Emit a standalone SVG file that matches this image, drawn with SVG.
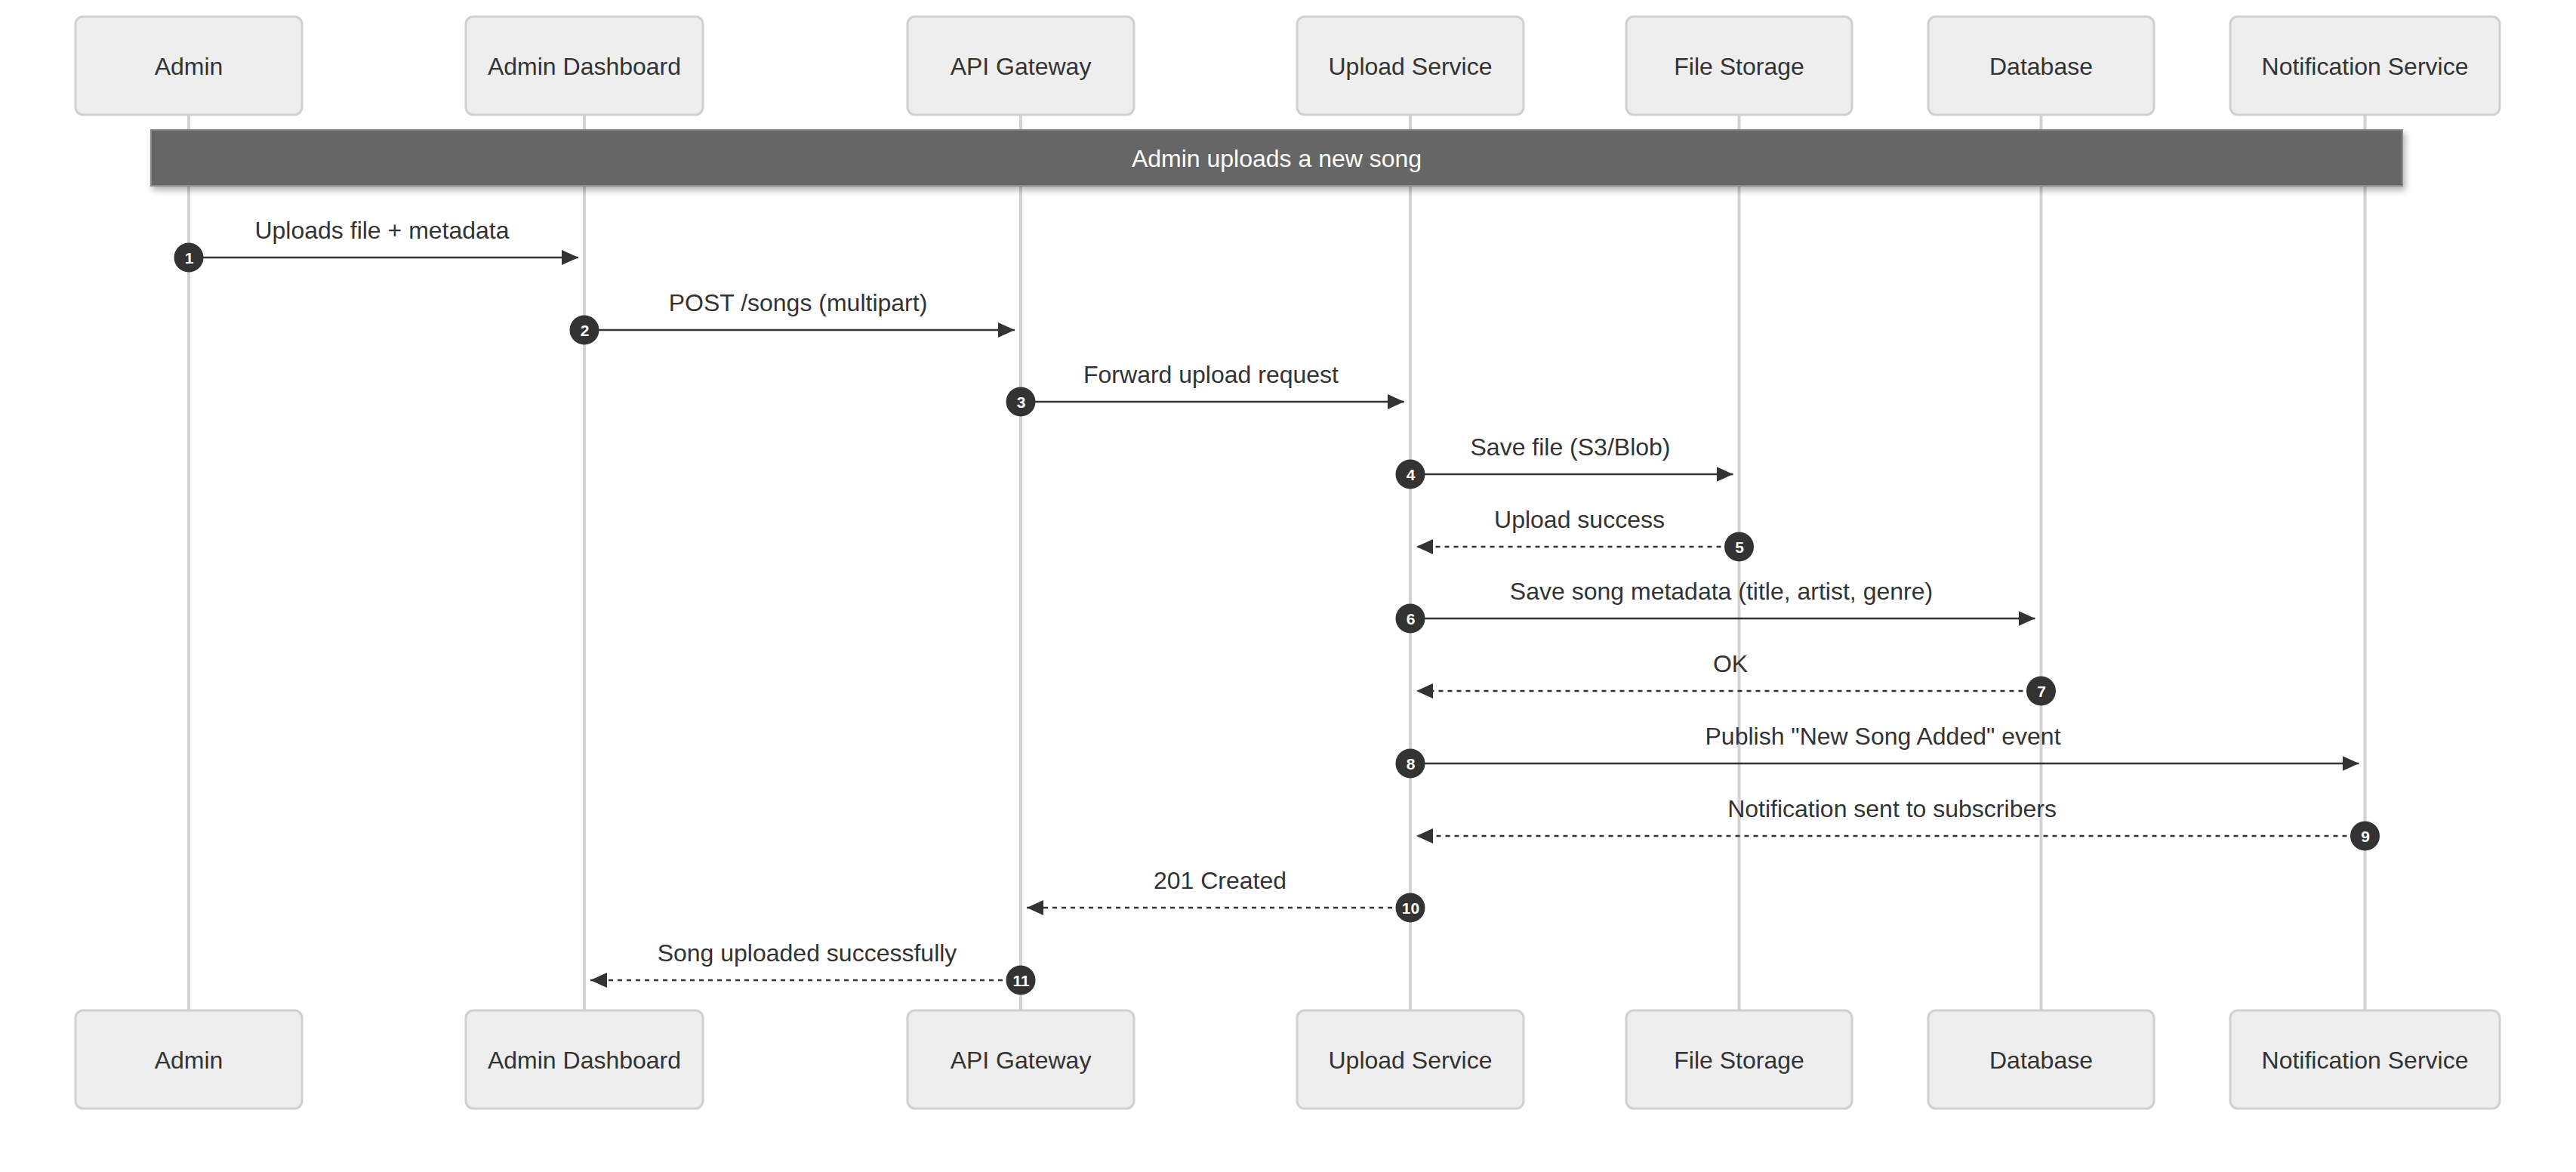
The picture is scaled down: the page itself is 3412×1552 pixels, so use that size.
<svg xmlns="http://www.w3.org/2000/svg" width="3412" height="1552" viewBox="0 0 3412 1552">
<style>
.actor rect{fill:#eeeeee;stroke:#d0d0d0;stroke-width:3}
.actor text{font-family:"Liberation Sans",Arial,sans-serif;font-size:32px;fill:#333;text-anchor:middle}
.life{stroke:#d3d3d3;stroke-width:4}
.msg{stroke:#333;stroke-width:2.7;fill:none}
.dash{stroke-dasharray:6,6}
.lbl{font-family:"Liberation Sans",Arial,sans-serif;font-size:32px;fill:#333;text-anchor:middle}
.num circle{fill:#333}
.num text{font-family:"Liberation Sans",Arial,sans-serif;font-size:21px;font-weight:bold;fill:#fff;text-anchor:middle}
</style>
<defs>
<marker id="ah" markerUnits="userSpaceOnUse" markerWidth="22" markerHeight="20" refX="22" refY="10" orient="auto">
<path d="M0,0 L22,10 L0,20 z" fill="#333"/>
</marker>
<filter id="sh" x="-5%" y="-30%" width="110%" height="180%">
<feDropShadow dx="3" dy="5" stdDeviation="4" flood-color="#000" flood-opacity="0.3"/>
</filter>
</defs>
<rect width="3412" height="1552" fill="#fff"/>
<g id="lifelines">
<line class="life" x1="250" y1="152" x2="250" y2="1338"/>
<line class="life" x1="774" y1="152" x2="774" y2="1338"/>
<line class="life" x1="1352" y1="152" x2="1352" y2="1338"/>
<line class="life" x1="1868" y1="152" x2="1868" y2="1338"/>
<line class="life" x1="2303.5" y1="152" x2="2303.5" y2="1338"/>
<line class="life" x1="2703.5" y1="152" x2="2703.5" y2="1338"/>
<line class="life" x1="3132.5" y1="152" x2="3132.5" y2="1338"/>
</g>
<g id="actor-admin" class="actor">
<rect x="100" y="22" width="300" height="130" rx="10"/><text x="250" y="98.5">Admin</text>
<rect x="100" y="1338" width="300" height="130" rx="10"/><text x="250" y="1414.5">Admin</text>
</g>
<g id="actor-dashboard" class="actor">
<rect x="617" y="22" width="314" height="130" rx="10"/><text x="774" y="98.5">Admin Dashboard</text>
<rect x="617" y="1338" width="314" height="130" rx="10"/><text x="774" y="1414.5">Admin Dashboard</text>
</g>
<g id="actor-gateway" class="actor">
<rect x="1202" y="22" width="300" height="130" rx="10"/><text x="1352" y="98.5">API Gateway</text>
<rect x="1202" y="1338" width="300" height="130" rx="10"/><text x="1352" y="1414.5">API Gateway</text>
</g>
<g id="actor-upload" class="actor">
<rect x="1718" y="22" width="300" height="130" rx="10"/><text x="1868" y="98.5">Upload Service</text>
<rect x="1718" y="1338" width="300" height="130" rx="10"/><text x="1868" y="1414.5">Upload Service</text>
</g>
<g id="actor-storage" class="actor">
<rect x="2154" y="22" width="299" height="130" rx="10"/><text x="2303.5" y="98.5">File Storage</text>
<rect x="2154" y="1338" width="299" height="130" rx="10"/><text x="2303.5" y="1414.5">File Storage</text>
</g>
<g id="actor-database" class="actor">
<rect x="2554" y="22" width="299" height="130" rx="10"/><text x="2703.5" y="98.5">Database</text>
<rect x="2554" y="1338" width="299" height="130" rx="10"/><text x="2703.5" y="1414.5">Database</text>
</g>
<g id="actor-notification" class="actor">
<rect x="2954" y="22" width="357" height="130" rx="10"/><text x="3132.5" y="98.5">Notification Service</text>
<rect x="2954" y="1338" width="357" height="130" rx="10"/><text x="3132.5" y="1414.5">Notification Service</text>
</g>
<g id="note">
<rect x="200" y="172" width="2982" height="74" fill="#666" stroke="#8a8a8a" stroke-width="2" filter="url(#sh)"/>
<text x="1691" y="221" font-family="Liberation Sans, Arial, sans-serif" font-size="32" fill="#fff" text-anchor="middle">Admin uploads a new song</text>
</g>
<g id="connectors">
<line class="msg" x1="250" y1="341" x2="766" y2="341" marker-end="url(#ah)"/>
<line class="msg" x1="774" y1="437" x2="1344" y2="437" marker-end="url(#ah)"/>
<line class="msg" x1="1352" y1="532" x2="1860" y2="532" marker-end="url(#ah)"/>
<line class="msg" x1="1868" y1="628" x2="2295.5" y2="628" marker-end="url(#ah)"/>
<line class="msg dash" x1="2303.5" y1="724" x2="1876" y2="724" marker-end="url(#ah)"/>
<line class="msg" x1="1868" y1="819" x2="2695.5" y2="819" marker-end="url(#ah)"/>
<line class="msg dash" x1="2703.5" y1="915" x2="1876" y2="915" marker-end="url(#ah)"/>
<line class="msg" x1="1868" y1="1011" x2="3124.5" y2="1011" marker-end="url(#ah)"/>
<line class="msg dash" x1="3132.5" y1="1107" x2="1876" y2="1107" marker-end="url(#ah)"/>
<line class="msg dash" x1="1868" y1="1202" x2="1360" y2="1202" marker-end="url(#ah)"/>
<line class="msg dash" x1="1352" y1="1298" x2="782" y2="1298" marker-end="url(#ah)"/>
<text class="lbl" x="506" y="316">Uploads file + metadata</text>
<text class="lbl" x="1057" y="412">POST /songs (multipart)</text>
<text class="lbl" x="1604" y="507">Forward upload request</text>
<text class="lbl" x="2080" y="603">Save file (S3/Blob)</text>
<text class="lbl" x="2092" y="699">Upload success</text>
<text class="lbl" x="2280" y="794">Save song metadata (title, artist, genre)</text>
<text class="lbl" x="2292" y="890">OK</text>
<text class="lbl" x="2494" y="986">Publish "New Song Added" event</text>
<text class="lbl" x="2506" y="1082">Notification sent to subscribers</text>
<text class="lbl" x="1616" y="1177">201 Created</text>
<text class="lbl" x="1069" y="1273">Song uploaded successfully</text>
</g>
<g id="sequence-numbers" class="num">
<circle cx="250" cy="341" r="19.5"/><text x="250.5" y="348.5">1</text>
<circle cx="774" cy="437" r="19.5"/><text x="774.5" y="444.5">2</text>
<circle cx="1352" cy="532" r="19.5"/><text x="1352.5" y="539.5">3</text>
<circle cx="1868" cy="628" r="19.5"/><text x="1868.5" y="635.5">4</text>
<circle cx="2303.5" cy="724" r="19.5"/><text x="2304" y="731.5">5</text>
<circle cx="1868" cy="819" r="19.5"/><text x="1868.5" y="826.5">6</text>
<circle cx="2703.5" cy="915" r="19.5"/><text x="2704" y="922.5">7</text>
<circle cx="1868" cy="1011" r="19.5"/><text x="1868.5" y="1018.5">8</text>
<circle cx="3132.5" cy="1107" r="19.5"/><text x="3133" y="1114.5">9</text>
<circle cx="1868" cy="1202" r="19.5"/><text x="1868.5" y="1209.5">10</text>
<circle cx="1352" cy="1298" r="19.5"/><text x="1352.5" y="1305.5">11</text>
</g>
</svg>
